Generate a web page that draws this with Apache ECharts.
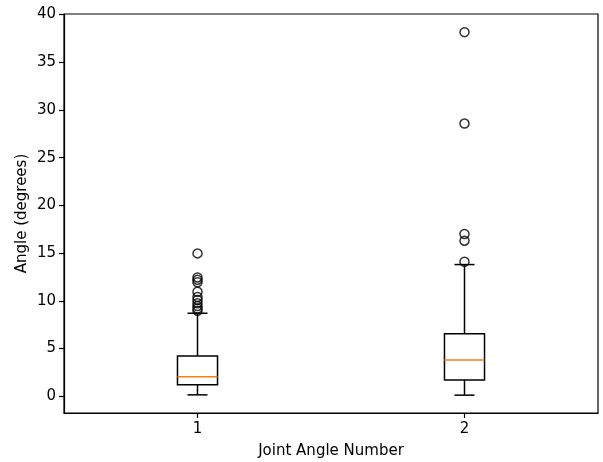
<!DOCTYPE html>
<html>
<head>
<meta charset="utf-8">
<script src="https://cdn.jsdelivr.net/npm/echarts@6/dist/echarts.min.js"></script>
<style>html,body{margin:0;padding:0;background:#fff;}#c{width:603px;height:462px;}</style>
</head>
<body>
<div id="c"></div>
<script>
const categories = ['1', '2'];
// [lowerWhisker, Q1, median, Q3, upperWhisker]
const boxStats = [
  [0.15, 1.2, 2.05, 4.22, 8.7],
  [0.12, 1.72, 3.8, 6.54, 13.8]
];
const outliers1 = [14.97, 12.45, 12.2, 11.95, 10.95, 10.4, 10.1, 9.75, 9.45, 9.2, 8.95];
const outliers2 = [38.15, 28.57, 17.0, 16.3, 14.1];
const yTicks = [0, 5, 10, 15, 20, 25, 30, 35, 40];

const font = 'DejaVu Sans';
const outlierData = [];
outliers1.forEach(v => outlierData.push([0, v]));
outliers2.forEach(v => outlierData.push([1, v]));

const chart = echarts.init(document.getElementById('c'), null, {renderer: 'canvas'});
chart.setOption({
  animation: false,
  backgroundColor: '#fff',
  grid: {left: 64, right: 5, top: 14, bottom: 49, containLabel: false, outerBoundsMode: 'none', show: true, borderColor: '#000', borderWidth: 1.2, backgroundColor: 'transparent'},
  xAxis: {
    type: 'category',
    data: categories,
    boundaryGap: true,
    name: 'Joint Angle Number',
    nameLocation: 'middle',
    nameGap: 31,
    nameMoveOverlap: false,
    nameTextStyle: {fontFamily: font, fontSize: 15, color: '#000'},
    axisLine: {show: true, onZero: false, lineStyle: {color: '#000', width: 1.2}},
    axisTick: {show: true, alignWithLabel: true, length: 5, lineStyle: {color: '#000', width: 1.2}},
    axisLabel: {fontFamily: font, fontSize: 15, color: '#000', margin: 9},
    splitLine: {show: false}
  },
  yAxis: {
    type: 'value',
    min: -1.75,
    max: 40.05,
    name: 'Angle (degrees)',
    nameLocation: 'middle',
    nameGap: 34,
    nameMoveOverlap: false,
    nameRotate: 90,
    nameTextStyle: {fontFamily: font, fontSize: 15, color: '#000'},
    axisLine: {show: true, lineStyle: {color: '#000', width: 1.2}},
    axisTick: {show: true, length: 5, customValues: yTicks, lineStyle: {color: '#000', width: 1.2}},
    axisLabel: {fontFamily: font, fontSize: 15, color: '#000', margin: 8, customValues: yTicks, showMinLabel: true, showMaxLabel: true},
    splitLine: {show: false}
  },
  series: [
    {
      type: 'custom',
      data: boxStats.map((s, i) => [i].concat(s)),
      encode: {x: 0, y: [1, 2, 3, 4, 5]},
      renderItem: function (params, api) {
        const i = api.value(0);
        const lo = api.coord([i, api.value(1)]);
        const q1 = api.coord([i, api.value(2)]);
        const md = api.coord([i, api.value(3)]);
        const q3 = api.coord([i, api.value(4)]);
        const hi = api.coord([i, api.value(5)]);
        const band = api.size([1, 0])[0];
        const bw = band * 0.15;
        const cw = bw / 2;
        const cx = lo[0];
        const ls = {stroke: '#000', lineWidth: 1.5, fill: null};
        return {
          type: 'group',
          children: [
            {type: 'line', shape: {x1: cx, y1: lo[1], x2: cx, y2: q1[1]}, style: ls},
            {type: 'line', shape: {x1: cx, y1: q3[1], x2: cx, y2: hi[1]}, style: ls},
            {type: 'line', shape: {x1: cx - cw / 2, y1: lo[1], x2: cx + cw / 2, y2: lo[1]}, style: ls},
            {type: 'line', shape: {x1: cx - cw / 2, y1: hi[1], x2: cx + cw / 2, y2: hi[1]}, style: ls},
            {type: 'rect', shape: {x: cx - bw / 2, y: q3[1], width: bw, height: q1[1] - q3[1]}, style: {stroke: '#000', lineWidth: 1.5, fill: 'none'}},
            {type: 'line', shape: {x1: cx - bw / 2, y1: md[1], x2: cx + bw / 2, y2: md[1]}, style: {stroke: '#ff7f0e', lineWidth: 1.6}}
          ]
        };
      },
      z: 2
    },
    {
      type: 'scatter',
      data: outlierData,
      symbol: 'circle',
      symbolSize: 9,
      itemStyle: {color: 'rgba(0,0,0,0)', borderColor: '#000', borderWidth: 1.5},
      z: 3
    }
  ]
});
</script>
</body>
</html>
